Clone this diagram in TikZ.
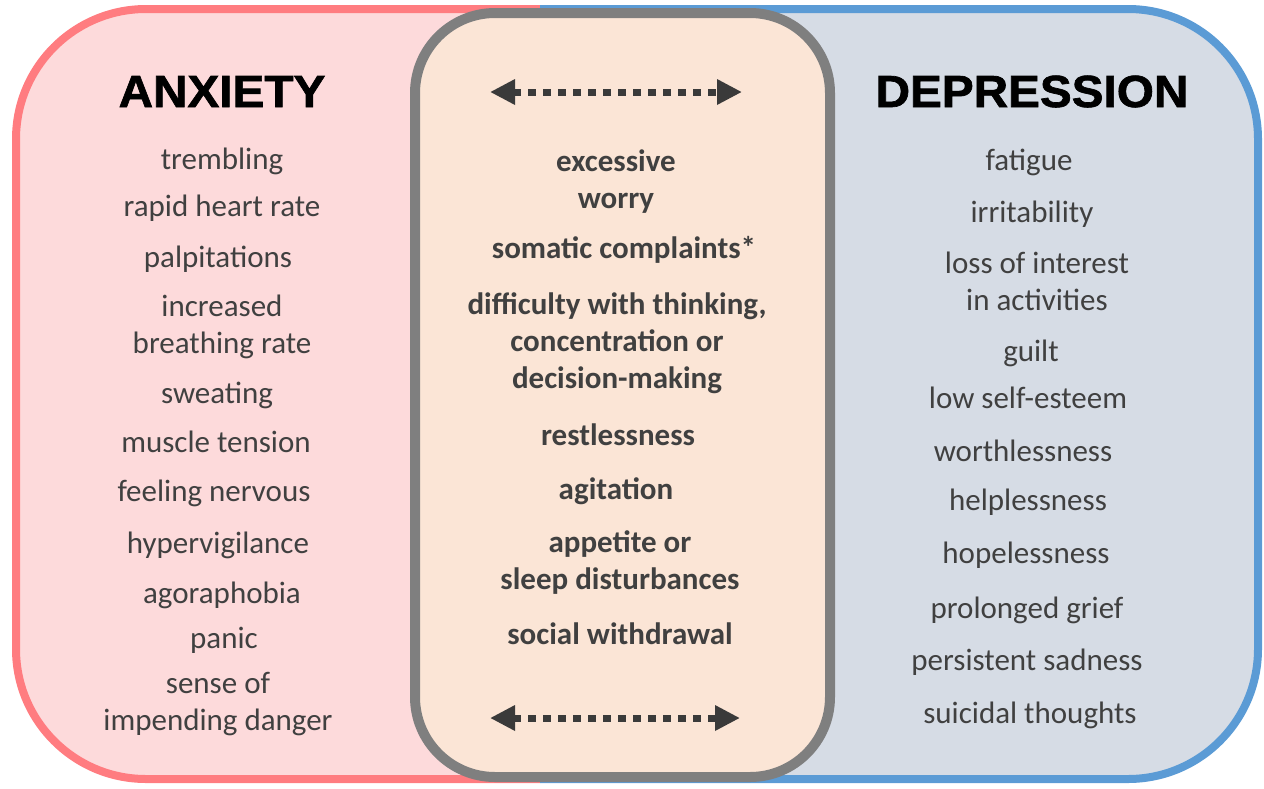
\documentclass[tikz,border=0pt]{standalone}
\usepackage{fontspec}
\setmainfont{Carlito}
\newfontfamily\headfont{Liberation Sans}[FakeStretch=1.06,BoldFeatures={FakeBold=1.5}]
\usepackage{xcolor}
\usetikzlibrary{arrows.meta,positioning}

\definecolor{anxfill}{HTML}{FDDADB}
\definecolor{anxline}{HTML}{FF7C80}
\definecolor{depfill}{HTML}{D6DCE5}
\definecolor{depline}{HTML}{5B9BD5}
\definecolor{midfill}{HTML}{FBE5D6}
\definecolor{midline}{HTML}{7F7F7F}
\definecolor{textgrey}{HTML}{404040}
\definecolor{arrowgrey}{HTML}{3A3A3A}

\begin{document}
\begin{tikzpicture}[x=0.5pt,y=-0.5pt,
    symptom/.style={text=textgrey,font=\fontsize{15.5}{18.5}\selectfont,anchor=base,align=center,inner sep=0pt},
    shared/.style={symptom,font=\bfseries\fontsize{15.5}{18.5}\selectfont},
    heading/.style={font=\headfont\bfseries\fontsize{22.5}{27}\selectfont,anchor=base,inner sep=0pt},
    bothways/.style={draw=arrowgrey,line width=3.5pt,dash pattern=on 4pt off 3.5pt,
        {Triangle[length=12.5pt,width=12pt]}-{Triangle[length=12.5pt,width=12pt]}}]
    \useasboundingbox (0,0) rectangle (1264,788);
    % panels
    \draw[line width=4pt,draw=anxline,fill=anxfill,rounded corners=65pt]
        (540,9) -- (16,9) -- (16,779) -- (540,779);
    \draw[line width=4pt,draw=depline,fill=depfill,rounded corners=65pt]
        (540,9) -- (1258,9) -- (1258,779) -- (540,779);
    \draw[line width=5pt,draw=midline,fill=midfill,rounded corners=40pt]
        (415,13) rectangle (830,777);
    % ANXIETY (base = last line)
    \node[heading] (anx) at (222,107) {ANXIETY};
    \node[symptom] (trem) at (222,169) {trembling};
    \node[symptom] (heart) at (222,216) {rapid heart rate};
    \node[symptom] (palp) at (218,267) {palpitations};
    \node[symptom] (breath) at (222,353) {increased\\breathing rate};
    \node[symptom] (sweat) at (217,403) {sweating};
    \node[symptom] (muscle) at (216,452) {muscle tension};
    \node[symptom] (nerv) at (214,501) {feeling nervous};
    \node[symptom] (hyper) at (218,553) {hypervigilance};
    \node[symptom] (agora) at (222,603) {agoraphobia};
    \node[symptom] (panic) at (224,648) {panic};
    \node[symptom] (danger) at (218,730) {sense of\\impending danger};
    % shared
    \coordinate (topl) at (490,92);
    \coordinate (topr) at (742,92);
    \draw[bothways] (topl) -- (topr);
    \node[shared] (worry) at (616,208) {excessive\\worry};
    \node[shared] (somatic) at (624,258) {somatic complaints*};
    \node[shared] (think) at (617,388) {difficulty with thinking,\\concentration or\\decision-making};
    \node[shared] (restless) at (618,445) {restlessness};
    \node[shared] (agit) at (616,499) {agitation};
    \node[shared] (sleep) at (620,589) {appetite or\\sleep disturbances};
    \node[shared] (social) at (620,644) {social withdrawal};
    \coordinate (botl) at (490,718);
    \coordinate (botr) at (740,718);
    \draw[bothways] (botl) -- (botr);
    % DEPRESSION
    \node[heading] (dep) at (1032,107) {DEPRESSION};
    \node[symptom] (fatigue) at (1029,170) {fatigue};
    \node[symptom] (irrit) at (1032,222) {irritability};
    \node[symptom] (interest) at (1037,310) {loss of interest\\in activities};
    \node[symptom] (guilt) at (1031,361) {guilt};
    \node[symptom] (esteem) at (1028,408) {low self-esteem};
    \node[symptom] (worth) at (1023,461) {worthlessness};
    \node[symptom] (help) at (1028,510) {helplessness};
    \node[symptom] (hope) at (1026,563) {hopelessness};
    \node[symptom] (grief) at (1027,618) {prolonged grief};
    \node[symptom] (sad) at (1027,670) {persistent sadness};
    \node[symptom] (suicide) at (1030,723) {suicidal thoughts};
\end{tikzpicture}
\end{document}
